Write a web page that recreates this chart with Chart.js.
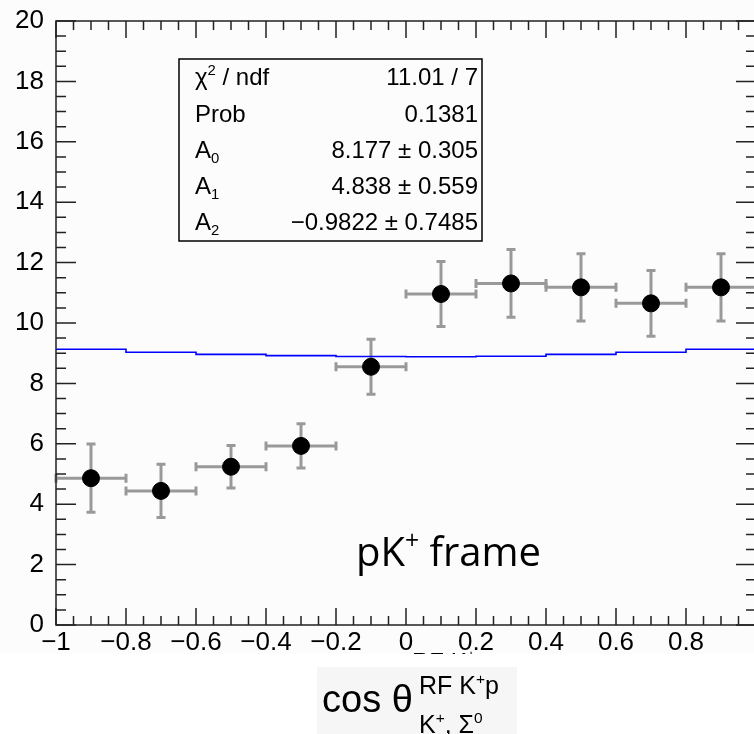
<!DOCTYPE html>
<html>
<head>
<meta charset="utf-8">
<script src="https://cdn.jsdelivr.net/npm/chart.js@4.4.0/dist/chart.umd.min.js"></script>
<style>
html, body { margin: 0; padding: 0; overflow: hidden; background: #fff; }
#wrap { width: 770px; height: 734px; position: relative; }
</style>
</head>
<body>
<div id="wrap"><canvas id="chart" width="770" height="734"></canvas></div>
<script>
// measured points (bin centres, counts, errors)
const binCenters = [-0.9, -0.7, -0.5, -0.3, -0.1, 0.1, 0.3, 0.5, 0.7, 0.9];
const binHalfWidths = [0.1, 0.1, 0.1, 0.1, 0.1, 0.1, 0.1, 0.1, 0.1, 0.1];
const counts = [4.86, 4.44, 5.24, 5.93, 8.55, 10.96, 11.31, 11.18, 10.65, 11.18];
const countErrors = [1.13, 0.88, 0.70, 0.73, 0.91, 1.08, 1.12, 1.11, 1.09, 1.11];

// fit function, drawn as a histogram (value holds until next edge)
const fitEdges = [-1, -0.8, -0.6, -0.4, -0.2, 0, 0.2, 0.4, 0.6, 0.8, 1];
const fitValues = [9.13, 9.03, 8.96, 8.92, 8.89, 8.88, 8.90, 8.96, 9.03, 9.13, 9.13];

const xTickValues = [-1, -0.8, -0.6, -0.4, -0.2, 0, 0.2, 0.4, 0.6, 0.8, 1];
const yTickValues = [0, 2, 4, 6, 8, 10, 12, 14, 16, 18, 20];

// stats box
const statNames = [
    [['χ', 0], ['2', -1], [' / ndf', 0]],
    [['Prob', 0]],
    [['A', 0], ['0', 1]],
    [['A', 0], ['1', 1]],
    [['A', 0], ['2', 1]]
];
const statValues = ['11.01 / 7', '0.1381', '8.177 ± 0.305', '4.838 ± 0.559', '−0.9822 ± 0.7485'];

const SANS = '"Liberation Sans", Arial, sans-serif';

function fmtTick(v) {
    if (Math.abs(v - 1) < 1e-9) return '';
    let s = String(Math.round(v * 10) / 10);
    return s.replace('-', '\u2212');
}

// draws [text, mode] pieces: mode 0 normal, -1 superscript, 1 subscript
function richText(ctx, parts, x, y, size, family) {
    ctx.textAlign = 'left';
    ctx.textBaseline = 'alphabetic';
    parts.forEach(p => {
        let s = size, dy = 0;
        if (p[1] === -1) { s = size * 0.62; dy = -size * 0.42; }
        if (p[1] === 1) { s = size * 0.62; dy = size * 0.22; }
        ctx.font = s + 'px ' + family;
        ctx.fillText(p[0], x, y + dy);
        x += ctx.measureText(p[0]).width;
    });
    return x;
}

const errorBars = {
    id: 'errorBars',
    beforeDatasetsDraw(chart) {
        const ctx = chart.ctx;
        const xs = chart.scales.x, ys = chart.scales.y;
        ctx.save();
        ctx.strokeStyle = '#999999';
        ctx.lineWidth = 3;
        const cap = 4.5;
        binCenters.forEach((c, i) => {
            const px = xs.getPixelForValue(c);
            const py = ys.getPixelForValue(counts[i]);
            const x0 = xs.getPixelForValue(c - binHalfWidths[i]);
            const x1 = xs.getPixelForValue(c + binHalfWidths[i]);
            const y0 = ys.getPixelForValue(counts[i] - countErrors[i]);
            const y1 = ys.getPixelForValue(counts[i] + countErrors[i]);
            ctx.beginPath();
            ctx.moveTo(x0, py); ctx.lineTo(x1, py);
            ctx.moveTo(x0, py - cap); ctx.lineTo(x0, py + cap);
            ctx.moveTo(x1, py - cap); ctx.lineTo(x1, py + cap);
            ctx.moveTo(px, y0); ctx.lineTo(px, y1);
            ctx.moveTo(px - cap, y0); ctx.lineTo(px + cap, y0);
            ctx.moveTo(px - cap, y1); ctx.lineTo(px + cap, y1);
            ctx.stroke();
        });
        ctx.restore();
    }
};

const rootFrame = {
    id: 'rootFrame',
    beforeDraw(chart) {
        const ctx = chart.ctx;
        ctx.save();
        ctx.fillStyle = '#fcfcfc';
        ctx.fillRect(0, 0, chart.width, chart.height);
        // stray superscript peeking under the 0 label, cut by the pasted title box
        ctx.fillStyle = '#000';
        richText(ctx, [['RF K', 0], ['+', -1], ['p', 0]], 412, 670, 24, SANS);
        ctx.fillStyle = '#ffffff';
        ctx.fillRect(0, 654, chart.width, chart.height - 654);
        ctx.restore();
    },
    afterDraw(chart) {
        const ctx = chart.ctx;
        const a = chart.chartArea;
        const xs = chart.scales.x, ys = chart.scales.y;
        ctx.save();
        ctx.strokeStyle = '#222';
        ctx.lineWidth = 1.5;
        ctx.strokeRect(a.left, a.top, a.right - a.left, a.bottom - a.top);

        // inward ticks on all four sides
        ctx.beginPath();
        for (let i = 0; i <= 40; i++) {
            const v = -1 + i * 0.05;
            const px = xs.getPixelForValue(v);
            const len = i % 4 === 0 ? 17 : 9;
            ctx.moveTo(px, a.bottom); ctx.lineTo(px, a.bottom - len);
            ctx.moveTo(px, a.top); ctx.lineTo(px, a.top + len);
        }
        for (let i = 0; i <= 40; i++) {
            const v = i * 0.5;
            const py = ys.getPixelForValue(v);
            const len = i % 4 === 0 ? 20 : 10;
            ctx.moveTo(a.left, py); ctx.lineTo(a.left + len, py);
            ctx.moveTo(a.right, py); ctx.lineTo(a.right - len, py);
        }
        ctx.stroke();

        // stats box
        ctx.fillStyle = '#fcfcfc';
        ctx.fillRect(179, 59, 303, 182);
        ctx.strokeStyle = '#000';
        ctx.lineWidth = 1.5;
        ctx.strokeRect(179, 59, 303, 182);
        ctx.fillStyle = '#000';
        const rows = [85, 121.5, 157.5, 193.5, 229.5];
        statNames.forEach((parts, i) => {
            richText(ctx, parts, 195, rows[i], 24, SANS);
            ctx.font = '24px ' + SANS;
            ctx.textAlign = 'right';
            ctx.fillText(statValues[i], 478, rows[i]);
        });

        // frame label
        richText(ctx, [['pK', 0], ['+', -1], [' frame', 0]], 356, 566, 40, '"Open Sans", "Noto Sans", sans-serif');

        // axis title: cos theta^{RF K+p}_{K+, Sigma0}
        ctx.fillStyle = '#f6f6f6';
        ctx.fillRect(317, 667, 200, 67);
        ctx.fillStyle = '#000';
        richText(ctx, [['cos θ', 0]], 322, 712, 38, SANS);
        richText(ctx, [['RF K', 0], ['+', -1], ['p', 0]], 419, 694, 25, SANS);
        richText(ctx, [['K', 0], ['+', -1], [', Σ', 0], ['0', -1]], 419, 733, 25, SANS);
        ctx.restore();
    }
};

new Chart(document.getElementById('chart'), {
    type: 'scatter',
    data: {
        datasets: [
            {
                type: 'line',
                label: 'fit',
                data: fitEdges.map((x, i) => ({ x: x, y: fitValues[i] })),
                borderColor: '#0000ff',
                borderWidth: 1.6,
                stepped: true,
                pointRadius: 0,
                fill: false,
                order: 2
            },
            {
                label: 'data',
                data: binCenters.map((x, i) => ({ x: x, y: counts[i] })),
                backgroundColor: '#000',
                borderColor: '#000',
                pointRadius: 8.5,
                pointHoverRadius: 8.5,
                order: 1
            }
        ]
    },
    options: {
        responsive: false,
        animation: false,
        events: [],
        layout: { padding: { top: 21, right: 14, left: 0, bottom: 0 } },
        plugins: { legend: { display: false }, tooltip: { enabled: false } },
        scales: {
            x: {
                type: 'linear',
                min: -1,
                max: 1,
                grid: { display: false },
                border: { display: false },
                afterBuildTicks: s => { s.ticks = xTickValues.map(v => ({ value: v })); },
                afterFit: s => { s.height = 109; },
                ticks: {
                    autoSkip: false,
                    maxRotation: 0,
                    padding: -6,
                    color: '#000',
                    font: { family: SANS, size: 26 },
                    callback: v => fmtTick(v)
                }
            },
            y: {
                min: 0,
                max: 20,
                grid: { display: false },
                border: { display: false },
                afterBuildTicks: s => { s.ticks = yTickValues.map(v => ({ value: v })); },
                afterFit: s => { s.width = 56; },
                ticks: {
                    padding: 4,
                    color: '#000',
                    font: { family: SANS, size: 26 },
                    callback: v => String(v)
                }
            }
        }
    },
    plugins: [errorBars, rootFrame]
});
</script>
</body>
</html>
